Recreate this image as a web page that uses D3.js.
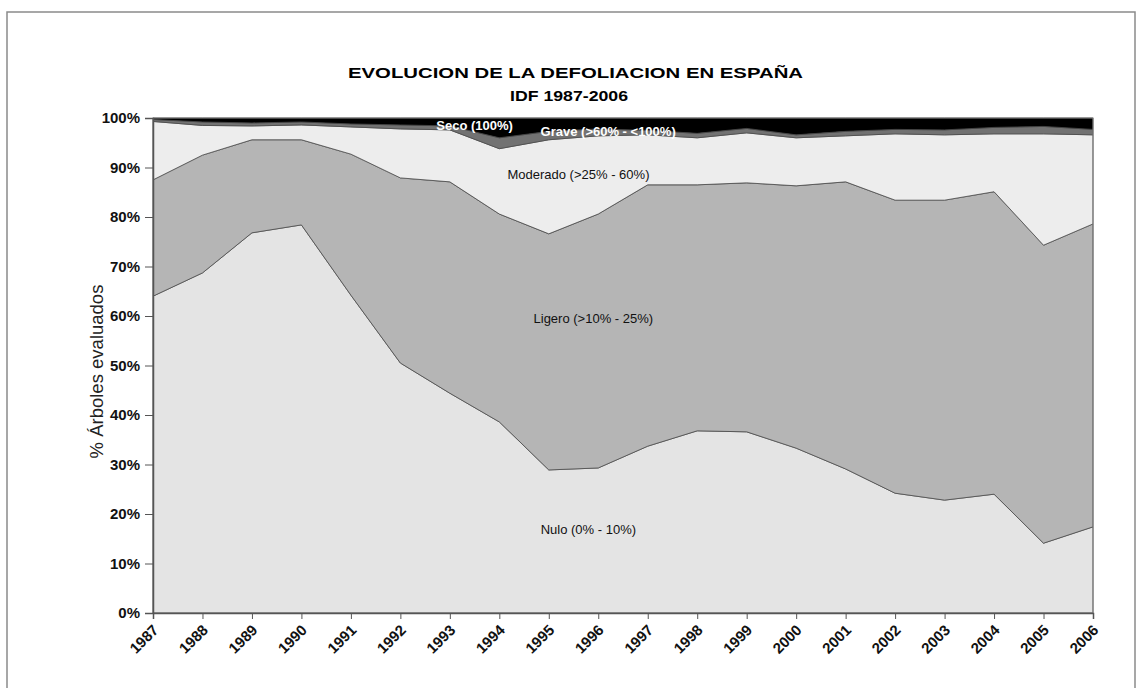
<!DOCTYPE html>
<html>
<head>
<meta charset="utf-8">
<script src="https://cdn.jsdelivr.net/npm/d3@7"></script>
<style>
  body { margin: 0; background: #fff; }
  svg { display: block; font-family: "Liberation Sans", Arial, sans-serif; }
</style>
</head>
<body>
<div id="chart"></div>
<script>
// datos: % de arboles por clase de defoliacion
var years = [1987, 1988, 1989, 1990, 1991, 1992, 1993, 1994, 1995, 1996,
             1997, 1998, 1999, 2000, 2001, 2002, 2003, 2004, 2005, 2006];
var nulo     = [64.0, 68.7, 76.8, 78.4, 64.2, 50.5, 44.4, 38.6, 28.9, 29.3, 33.7, 36.8, 36.6, 33.3, 29.1, 24.2, 22.8, 24.0, 14.1, 17.4];
var ligero   = [23.5, 23.8, 18.8, 17.2, 28.5, 37.4, 42.7, 42.0, 47.7, 51.3, 52.8, 49.7, 50.3, 53.0, 58.0, 59.2, 60.6, 61.1, 60.2, 61.2];
var moderado = [11.8,  6.0,  2.8,  3.0,  5.5,  9.9, 10.5, 13.2, 19.0, 15.8, 10.1,  9.5, 10.1,  9.7,  9.3, 13.4, 13.2, 11.7, 22.5, 18.0];
var grave    = [ 0.4,  0.7,  0.6,  0.6,  0.6,  0.8,  0.8,  2.2,  1.7,  1.4,  0.9,  0.9,  0.9,  0.6,  0.9,  0.9,  1.0,  1.3,  1.5,  1.1];
var seco     = [ 0.3,  0.8,  1.0,  0.8,  1.2,  1.4,  1.6,  4.0,  2.7,  2.2,  2.5,  3.1,  2.1,  3.4,  2.7,  2.3,  2.4,  1.9,  1.7,  2.3];
var yTicks = [0, 0.1, 0.2, 0.3, 0.4, 0.5, 0.6, 0.7, 0.8, 0.9, 1.0];

var keys = ["nulo", "ligero", "moderado", "grave", "seco"];
var labels = {
  nulo: "Nulo (0% - 10%)",
  ligero: "Ligero (>10% - 25%)",
  moderado: "Moderado (>25% - 60%)",
  grave: "Grave (>60% - <100%)",
  seco: "Seco (100%)"
};

var width = 1141, height = 688;
var margin = {top: 118, right: 48, bottom: 75, left: 153};
var w = width - margin.left - margin.right;
var h = height - margin.top - margin.bottom;

var table = years.map(function(y, i) {
  return {year: y, nulo: nulo[i], ligero: ligero[i], moderado: moderado[i], grave: grave[i], seco: seco[i]};
});

var stack = d3.stack().keys(keys).offset(d3.stackOffsetExpand);
var series = stack(table);

var x = d3.scaleLinear().domain([1987, 2006]).range([0, w]);
var y = d3.scaleLinear().domain([0, 1]).range([h, 0]);

var color = d3.scaleOrdinal()
  .domain(keys)
  .range(["#e4e4e4", "#b5b5b5", "#ededed", "#727272", "#000000"]);

var svg = d3.select("#chart").append("svg")
  .attr("width", width)
  .attr("height", height);

// marco exterior
svg.append("rect")
  .attr("x", 7).attr("y", 12)
  .attr("width", 1128).attr("height", 700)
  .attr("fill", "none")
  .attr("stroke", "#8a8a8a")
  .attr("stroke-width", 1.5);

svg.append("text")
  .attr("x", 348).attr("y", 78)
  .attr("textLength", 455).attr("lengthAdjust", "spacingAndGlyphs")
  .attr("font-size", 15).attr("font-weight", "bold")
  .text("EVOLUCION DE LA DEFOLIACION EN ESPAÑA");
svg.append("text")
  .attr("x", 510).attr("y", 101)
  .attr("textLength", 118).attr("lengthAdjust", "spacingAndGlyphs")
  .attr("font-size", 15).attr("font-weight", "bold")
  .text("IDF 1987-2006");

var g = svg.append("g")
  .attr("transform", "translate(" + margin.left + "," + margin.top + ")");

var area = d3.area()
  .x(function(d) { return x(d.data.year); })
  .y0(function(d) { return y(d[0]); })
  .y1(function(d) { return y(d[1]); });

g.selectAll(".layer")
  .data(series)
  .enter().append("path")
  .attr("class", "layer")
  .attr("d", area)
  .attr("fill", function(d) { return color(d.key); })
  .attr("stroke", "#4a4a4a")
  .attr("stroke-width", 0.8);

// borde del area de trazado
g.append("rect")
  .attr("width", w).attr("height", h)
  .attr("fill", "none")
  .attr("stroke", "#7a7a7a")
  .attr("stroke-width", 1);

var yAxis = g.append("g")
  .call(d3.axisLeft(y).tickValues(yTicks).tickFormat(d3.format(".0%")).tickSize(8).tickPadding(5));
yAxis.select(".domain").attr("stroke", "#555").attr("stroke-width", 1.5);
yAxis.selectAll(".tick line").attr("stroke", "#555");
yAxis.selectAll("text")
  .attr("font-size", 15).attr("font-weight", "bold")
  .attr("font-family", "Liberation Sans, Arial, sans-serif")
  .attr("fill", "#111");

var xAxis = g.append("g")
  .attr("transform", "translate(0," + h + ")")
  .call(d3.axisBottom(x).tickValues(years).tickFormat(d3.format("d")).tickSize(6));
xAxis.select(".domain").attr("stroke", "#555").attr("stroke-width", 1.5);
xAxis.selectAll(".tick line").attr("stroke", "#555");
xAxis.selectAll("text")
  .attr("font-size", 15).attr("font-weight", "bold")
  .attr("font-family", "Liberation Sans, Arial, sans-serif")
  .attr("fill", "#111")
  .attr("text-anchor", "end")
  .attr("dy", 0)
  .attr("y", 0)
  .attr("transform", "translate(6,18) rotate(-45)");

svg.append("text")
  .attr("transform", "translate(103," + (margin.top + h / 2 + 6) + ") rotate(-90)")
  .attr("text-anchor", "middle")
  .attr("font-size", 18.5)
  .attr("fill", "#222")
  .text("% Árboles evaluados");

// etiquetas de las series
var labelPos = [
  {key: "seco", year: 1993.5, val: 0.984, fill: "#fff"},
  {key: "grave", year: 1996.2, val: 0.972, fill: "#fff"},
  {key: "moderado", year: 1995.6, val: 0.885, fill: "#111"},
  {key: "ligero", year: 1995.9, val: 0.596, fill: "#111"},
  {key: "nulo", year: 1995.8, val: 0.168, fill: "#111"}
];
g.selectAll(".lbl")
  .data(labelPos)
  .enter().append("text")
  .attr("class", "lbl")
  .attr("x", function(d) { return x(d.year); })
  .attr("y", function(d) { return y(d.val); })
  .attr("dy", "0.35em")
  .attr("text-anchor", "middle")
  .attr("font-size", 13)
  .attr("font-weight", function(d) { return d.key === "seco" || d.key === "grave" ? "bold" : "normal"; })
  .attr("fill", function(d) { return d.fill; })
  .text(function(d) { return labels[d.key]; });
</script>
</body>
</html>
